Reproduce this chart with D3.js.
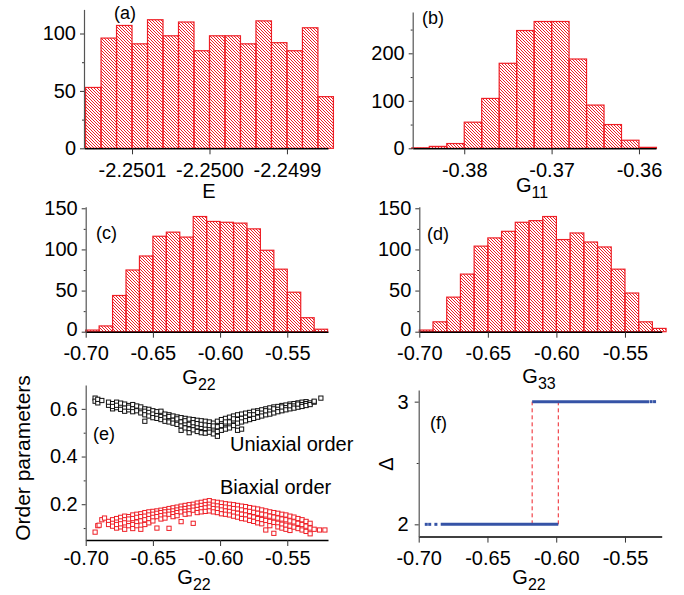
<!DOCTYPE html>
<html>
<head>
<meta charset="utf-8">
<script src="https://cdn.jsdelivr.net/npm/d3@7"></script>
<style>
  body { margin: 0; background: #fff; }
  svg { display: block; }
</style>
</head>
<body>
<svg></svg>
<script>

  // histogram counts
  var countsE = [53, 96, 107, 91, 112, 98, 110, 85, 98, 98, 91, 111, 92, 85, 105, 45]
  var countsG11 = [1, 4, 10, 55, 105, 179, 248, 267, 267, 188, 91, 50, 17, 2]
  var countsG22 = [2, 7, 44, 75, 92, 116, 121, 115, 140, 134, 133, 132, 125, 99, 76, 48, 17, 3]
  var countsG33 = [2, 12, 42, 70, 104, 114, 122, 133, 135, 140, 112, 120, 109, 103, 76, 47, 12, 4]

  // first bin edge, bin width
  var binsE = [-2.25016, 0.00002]
  var binsG11 = [-0.386, 0.002]
  var binsG22 = [-0.70, 0.01]
  var binsG33 = [-0.70, 0.01]

  // tick values and labels
  var ticksE = [-2.2501, -2.2500, -2.2499]
  var labelsE = ['-2.2501', '-2.2500', '-2.2499']
  var ticksG11 = [-0.38, -0.37, -0.36]
  var labelsG11 = ['-0.38', '-0.37', '-0.36']
  var ticksG = [-0.70, -0.65, -0.60, -0.55]
  var labelsG = ['-0.70', '-0.65', '-0.60', '-0.55']
  var countTicksA = [0, 50, 100]
  var countTicksB = [0, 100, 200]
  var countTicksC = [0, 50, 100, 150]
  var orderTicks = [0.2, 0.4, 0.6]
  var deltaTicks = [2, 3]

  // (e) uniaxial order parameter vs G22
  var uniaxial = [
    [-0.693,0.645],[-0.693,0.632],[-0.691,0.625],[-0.691,0.640],[-0.688,0.635],
    [-0.683,0.615],[-0.683,0.628],[-0.680,0.600],[-0.680,0.622],[-0.680,0.610],
    [-0.677,0.628],[-0.677,0.605],[-0.677,0.615],[-0.674,0.612],[-0.674,0.598],[-0.674,0.624],
    [-0.671,0.620],[-0.671,0.603],[-0.671,0.590],[-0.668,0.614],[-0.668,0.596],[-0.668,0.607],
    [-0.665,0.618],[-0.665,0.600],[-0.665,0.588],[-0.662,0.605],[-0.662,0.592],[-0.662,0.612],
    [-0.659,0.596],[-0.659,0.608],[-0.659,0.583],[-0.656,0.548],[-0.656,0.600],[-0.656,0.590],[-0.656,0.575],
    [-0.653,0.598],[-0.653,0.585],[-0.653,0.570],[-0.650,0.592],[-0.650,0.578],[-0.650,0.563],
    [-0.647,0.588],[-0.647,0.572],[-0.647,0.560],[-0.644,0.582],[-0.644,0.568],[-0.644,0.555],[-0.644,0.590],
    [-0.641,0.578],[-0.641,0.562],[-0.641,0.548],[-0.638,0.575],[-0.638,0.558],[-0.638,0.545],[-0.638,0.568],
    [-0.635,0.570],[-0.635,0.552],[-0.635,0.540],[-0.632,0.566],[-0.632,0.548],[-0.632,0.535],[-0.632,0.558],
    [-0.629,0.563],[-0.629,0.545],[-0.629,0.528],[-0.629,0.510],[-0.626,0.560],[-0.626,0.538],[-0.626,0.520],[-0.626,0.550],
    [-0.623,0.557],[-0.623,0.535],[-0.623,0.515],[-0.623,0.500],[-0.620,0.555],[-0.620,0.530],[-0.620,0.512],[-0.620,0.542],
    [-0.617,0.552],[-0.617,0.525],[-0.617,0.505],[-0.617,0.538],[-0.614,0.550],[-0.614,0.522],[-0.614,0.500],[-0.614,0.535],
    [-0.611,0.548],[-0.611,0.518],[-0.611,0.498],[-0.611,0.532],[-0.608,0.545],[-0.608,0.515],[-0.608,0.502],[-0.608,0.530],
    [-0.605,0.540],[-0.605,0.520],[-0.605,0.495],[-0.605,0.528],[-0.602,0.548],[-0.602,0.525],[-0.602,0.505],[-0.602,0.485],
    [-0.599,0.555],[-0.599,0.530],[-0.599,0.510],[-0.596,0.560],[-0.596,0.538],[-0.596,0.515],[-0.596,0.545],
    [-0.593,0.565],[-0.593,0.545],[-0.593,0.520],[-0.590,0.570],[-0.590,0.550],[-0.590,0.530],[-0.590,0.558],
    [-0.587,0.575],[-0.587,0.555],[-0.587,0.510],[-0.587,0.540],[-0.584,0.578],[-0.584,0.560],[-0.584,0.545],[-0.584,0.515],
    [-0.581,0.582],[-0.581,0.565],[-0.581,0.550],[-0.578,0.585],[-0.578,0.570],[-0.578,0.555],[-0.578,0.575],
    [-0.575,0.590],[-0.575,0.575],[-0.575,0.560],[-0.572,0.592],[-0.572,0.578],[-0.572,0.565],[-0.572,0.585],
    [-0.569,0.596],[-0.569,0.582],[-0.569,0.570],[-0.566,0.600],[-0.566,0.585],[-0.566,0.575],[-0.566,0.592],
    [-0.563,0.604],[-0.563,0.590],[-0.563,0.578],[-0.560,0.608],[-0.560,0.595],[-0.560,0.583],[-0.560,0.600],
    [-0.557,0.610],[-0.557,0.598],[-0.557,0.588],[-0.554,0.614],[-0.554,0.602],[-0.554,0.592],[-0.554,0.608],
    [-0.551,0.616],[-0.551,0.605],[-0.551,0.596],[-0.548,0.620],[-0.548,0.608],[-0.548,0.600],[-0.548,0.613],
    [-0.545,0.622],[-0.545,0.612],[-0.545,0.603],[-0.542,0.625],[-0.542,0.615],[-0.542,0.607],[-0.542,0.620],
    [-0.539,0.628],[-0.539,0.618],[-0.539,0.610],[-0.536,0.630],[-0.536,0.622],[-0.536,0.614],
    [-0.533,0.625],[-0.533,0.618],[-0.530,0.628],[-0.530,0.632],[-0.525,0.645]
  ]

  // (e) biaxial order parameter vs G22
  var biaxial = [
    [-0.693,0.083],[-0.691,0.110],[-0.690,0.112],[-0.688,0.135],[-0.686,0.142],
    [-0.683,0.128],[-0.683,0.115],[-0.680,0.135],[-0.680,0.120],[-0.680,0.108],
    [-0.677,0.140],[-0.677,0.125],[-0.677,0.100],[-0.677,0.115],[-0.674,0.145],[-0.674,0.130],[-0.674,0.105],[-0.674,0.118],
    [-0.671,0.150],[-0.671,0.135],[-0.671,0.095],[-0.671,0.122],[-0.668,0.148],[-0.668,0.128],[-0.668,0.110],[-0.668,0.138],
    [-0.665,0.155],[-0.665,0.140],[-0.665,0.115],[-0.665,0.098],[-0.662,0.158],[-0.662,0.145],[-0.662,0.125],[-0.662,0.110],
    [-0.659,0.160],[-0.659,0.148],[-0.659,0.130],[-0.659,0.095],[-0.656,0.165],[-0.656,0.150],[-0.656,0.135],[-0.656,0.115],
    [-0.653,0.168],[-0.653,0.155],[-0.653,0.140],[-0.653,0.122],[-0.650,0.170],[-0.650,0.158],[-0.650,0.145],[-0.650,0.130],
    [-0.647,0.172],[-0.647,0.162],[-0.647,0.148],[-0.647,0.100],[-0.644,0.175],[-0.644,0.165],[-0.644,0.152],[-0.644,0.138],
    [-0.641,0.178],[-0.641,0.168],[-0.641,0.155],[-0.641,0.142],[-0.638,0.182],[-0.638,0.170],[-0.638,0.158],[-0.638,0.099],
    [-0.635,0.185],[-0.635,0.172],[-0.635,0.160],[-0.635,0.148],[-0.632,0.188],[-0.632,0.176],[-0.632,0.165],[-0.632,0.152],
    [-0.629,0.192],[-0.629,0.180],[-0.629,0.168],[-0.629,0.127],[-0.626,0.195],[-0.626,0.182],[-0.626,0.170],[-0.626,0.158],
    [-0.623,0.198],[-0.623,0.185],[-0.623,0.172],[-0.623,0.160],[-0.620,0.200],[-0.620,0.188],[-0.620,0.175],[-0.620,0.120],
    [-0.617,0.205],[-0.617,0.192],[-0.617,0.178],[-0.617,0.165],[-0.614,0.208],[-0.614,0.195],[-0.614,0.182],[-0.614,0.168],
    [-0.611,0.212],[-0.611,0.198],[-0.611,0.185],[-0.611,0.170],[-0.608,0.215],[-0.608,0.200],[-0.608,0.188],[-0.608,0.172],
    [-0.605,0.210],[-0.605,0.196],[-0.605,0.182],[-0.605,0.168],[-0.602,0.208],[-0.602,0.193],[-0.602,0.180],[-0.602,0.165],
    [-0.599,0.205],[-0.599,0.190],[-0.599,0.176],[-0.599,0.160],[-0.596,0.202],[-0.596,0.188],[-0.596,0.172],[-0.596,0.158],
    [-0.593,0.200],[-0.593,0.185],[-0.593,0.170],[-0.593,0.155],[-0.590,0.198],[-0.590,0.182],[-0.590,0.166],[-0.590,0.150],
    [-0.587,0.195],[-0.587,0.180],[-0.587,0.162],[-0.587,0.146],[-0.584,0.192],[-0.584,0.176],[-0.584,0.158],[-0.584,0.140],
    [-0.581,0.190],[-0.581,0.172],[-0.581,0.155],[-0.581,0.138],[-0.578,0.186],[-0.578,0.170],[-0.578,0.150],[-0.578,0.132],
    [-0.575,0.183],[-0.575,0.166],[-0.575,0.146],[-0.575,0.128],[-0.572,0.180],[-0.572,0.162],[-0.572,0.140],[-0.572,0.122],
    [-0.569,0.176],[-0.569,0.158],[-0.569,0.136],[-0.569,0.118],[-0.566,0.172],[-0.566,0.155],[-0.566,0.132],[-0.566,0.092],
    [-0.563,0.168],[-0.563,0.150],[-0.563,0.128],[-0.563,0.110],[-0.560,0.165],[-0.560,0.146],[-0.560,0.124],[-0.560,0.078],
    [-0.557,0.162],[-0.557,0.142],[-0.557,0.120],[-0.557,0.105],[-0.554,0.158],[-0.554,0.138],[-0.554,0.116],[-0.554,0.100],
    [-0.551,0.155],[-0.551,0.135],[-0.551,0.112],[-0.551,0.095],[-0.548,0.150],[-0.548,0.130],[-0.548,0.108],[-0.548,0.090],
    [-0.545,0.146],[-0.545,0.126],[-0.545,0.104],[-0.542,0.140],[-0.542,0.120],[-0.542,0.098],
    [-0.539,0.135],[-0.539,0.115],[-0.539,0.092],[-0.536,0.128],[-0.536,0.108],[-0.536,0.086],
    [-0.533,0.120],[-0.533,0.076],[-0.533,0.100],[-0.530,0.095],[-0.526,0.092],[-0.522,0.092]
  ]

  // (f) delta vs G22: dense runs of points, a few isolated points, and the two switch points
  var deltaRuns = [{from: -0.684, to: -0.5985, delta: 2}, {from: -0.6175, to: -0.5325, delta: 3}]
  var deltaDots = [[-0.6945, 2], [-0.6920, 2], [-0.6875, 2], [-0.5310, 3], [-0.5285, 3]]
  var switchG22 = [-0.6175, -0.5985]


  var red = '#ee1f26'
  var blue = '#3553a6'
  var font = '"Liberation Sans", Arial, sans-serif'

  var svg = d3.select('svg')
              .attr('width', 684)
              .attr('height', 595)

  // diagonal hatch used to fill the bars
  svg.append('defs').append('pattern')
      .attr('id', 'hatch')
      .attr('patternUnits', 'userSpaceOnUse')
      .attr('width', 3)
      .attr('height', 3)
    .append('path')
      .attr('d', 'M0,0L3,3M-1,2L1,4M2,-1L4,1')
      .attr('stroke', red)
      .attr('stroke-width', 1)


  function histogram(counts, bins, x, y) {
    svg.append('g').selectAll('rect')
        .data(counts)
        .enter()
        .append('rect')
          .attr('x', (d, i) => x(bins[0] + i * bins[1]))
          .attr('width', (d, i) => x(bins[0] + (i + 1) * bins[1]) - x(bins[0] + i * bins[1]))
          .attr('y', (d) => y(d))
          .attr('height', (d) => y(0) - y(d))
          .attr('fill', 'url(#hatch)')
          .attr('stroke', red)
          .attr('stroke-width', 1.2)
  }

  function axes(x, y, o) {
    var gx = svg.append('g')
        .attr('transform', `translate(0,${y.range()[0]})`)
        .call(d3.axisBottom(x).tickValues(o.xt).tickFormat((d, i) => o.xl[i])
          .tickSize(6).tickSizeOuter(0).tickPadding(o.xpad))
    gx.select('.domain').attr('stroke', '#000').attr('stroke-width', 1.5)

    svg.append('g')
        .attr('transform', `translate(${x.range()[0]},0)`)
        .call(d3.axisLeft(y).tickValues(o.ym).tickFormat('').tickSize(2).tickSizeOuter(0))
        .select('.domain').remove()

    var gy = svg.append('g')
        .attr('transform', `translate(${x.range()[0]},0)`)
        .call(d3.axisLeft(y).tickValues(o.yt).tickFormat((d, i) => o.yl ? o.yl[i] : d)
          .tickSize(4).tickSizeOuter(0).tickPadding(o.ypad || 4))
    gy.select('.domain').attr('stroke', '#555').attr('stroke-width', 1.2)
    // the bottom label sits a touch higher so it clears the x tick labels
    gy.selectAll('.tick text').attr('dy', (d, i) => i == 0 && o.lift ? '0.2em' : '0.32em')

    svg.selectAll('.tick text').attr('font-size', 20).attr('font-family', font).attr('fill', '#000')
    svg.selectAll('.tick line').attr('stroke', '#333')
  }

  function label(x, y, main, sub, anchor, size) {
    var t = svg.append('text')
        .attr('x', x).attr('y', y)
        .attr('text-anchor', anchor || 'middle')
        .attr('font-family', font)
        .attr('font-size', size || 20)
        .text(main)
    if (sub) t.append('tspan').attr('font-size', 16).attr('dy', 6).text(sub)
  }

  function vlabel(x, y, txt, size) {
    svg.append('text')
        .attr('transform', `translate(${x},${y}) rotate(-90)`)
        .attr('text-anchor', 'middle')
        .attr('font-family', font)
        .attr('font-size', size)
        .text(txt)
  }


  // (a) E
  var xa = d3.scaleLinear().domain([-2.250162, -2.249847]).range([84, 328])
  var ya = d3.scaleLinear().domain([0, 121]).range([148.3, 9.4])
  histogram(countsE, binsE, xa, ya)
  axes(xa, ya, {xt: ticksE, xl: labelsE, xpad: 8.5, yt: countTicksA, ym: [25, 75]})
  label(209, 198, 'E')
  label(114, 19, '(a)', null, 'start', 18)

  // (b) G11
  var xb = d3.scaleLinear().domain([-0.3859, -0.35805]).range([412.7, 656])
  var yb = d3.scaleLinear().domain([0, 287]).range([148.3, 12])
  histogram(countsG11, binsG11, xb, yb)
  axes(xb, yb, {xt: ticksG11, xl: labelsG11, xpad: 8.5, yt: countTicksB, ym: [50, 150, 250]})
  label(532, 192, 'G', '11')
  label(422, 24, '(b)', null, 'start', 18)

  // (c) G22
  var xc = d3.scaleLinear().domain([-0.70, -0.5197]).range([85.7, 328])
  var yc = d3.scaleLinear().domain([0, 152]).range([331.7, 206.65])
  histogram(countsG22, binsG22, xc, yc)
  axes(xc, yc, {xt: ticksG, xl: labelsG, xpad: 8, yt: countTicksC, ym: [25, 75, 125], lift: true})
  label(199, 384, 'G', '22')
  label(96, 239, '(c)', null, 'start', 18)

  // (d) G33
  var xd = d3.scaleLinear().domain([-0.70, -0.5232]).range([419.3, 661.7])
  var yd = d3.scaleLinear().domain([0, 152]).range([331.7, 206.65])
  histogram(countsG33, binsG33, xd, yd)
  axes(xd, yd, {xt: ticksG, xl: labelsG, xpad: 8, yt: countTicksC, ym: [25, 75, 125], lift: true})
  label(539, 383, 'G', '33')
  label(427, 240, '(d)', null, 'start', 18)

  // (e) order parameters
  var xe = d3.scaleLinear().domain([-0.70, -0.5197]).range([85.7, 328])
  var ye = d3.scaleLinear().domain([0.05, 0.70]).range([540, 385])
  var sq = 4.2
  svg.append('g').selectAll('rect')
      .data(uniaxial)
      .enter()
      .append('rect')
        .attr('x', (d) => xe(d[0]) - sq / 2)
        .attr('y', (d) => ye(d[1]) - sq / 2)
        .attr('width', sq).attr('height', sq)
        .attr('fill', '#fff').attr('stroke', '#111').attr('stroke-width', 1)
  svg.append('g').selectAll('rect')
      .data(biaxial)
      .enter()
      .append('rect')
        .attr('x', (d) => xe(d[0]) - sq / 2)
        .attr('y', (d) => ye(d[1]) - sq / 2)
        .attr('width', sq).attr('height', sq)
        .attr('fill', '#fff').attr('stroke', red).attr('stroke-width', 1)
  axes(xe, ye, {xt: ticksG, xl: labelsG, xpad: 5, yt: orderTicks, yl: ['0.2', '0.4', '0.6'], ym: [0.1, 0.3, 0.5]})
  label(194, 584, 'G', '22')
  label(93, 440, '(e)', null, 'start', 18)
  label(230, 451, 'Uniaxial order', null, 'start', 20)
  label(220, 494, 'Biaxial order', null, 'start', 20)
  vlabel(30, 458, 'Order parameters', 21)

  // (f) delta
  var xf = d3.scaleLinear().domain([-0.70, -0.5233]).range([418.7, 661.7])
  var yf = d3.scaleLinear().domain([1.9, 3.095]).range([536.6, 390])
  svg.append('g').selectAll('line')
      .data(switchG22)
      .enter()
      .append('line')
        .attr('x1', (d) => xf(d)).attr('x2', (d) => xf(d))
        .attr('y1', yf(2)).attr('y2', yf(3))
        .attr('stroke', red).attr('stroke-width', 1).attr('stroke-dasharray', '4,3')
  svg.append('g').selectAll('line')
      .data(deltaRuns)
      .enter()
      .append('line')
        .attr('x1', (d) => xf(d.from)).attr('x2', (d) => xf(d.to))
        .attr('y1', (d) => yf(d.delta)).attr('y2', (d) => yf(d.delta))
        .attr('stroke', blue).attr('stroke-width', 3)
  svg.append('g').selectAll('rect')
      .data(deltaDots)
      .enter()
      .append('rect')
        .attr('x', (d) => xf(d[0]) - 1.5).attr('y', (d) => yf(d[1]) - 1.5)
        .attr('width', 3).attr('height', 3)
        .attr('fill', blue)
  axes(xf, yf, {xt: ticksG, xl: labelsG, xpad: 8, yt: deltaTicks, ym: [2.5], ypad: 6})
  label(529, 584, 'G', '22')
  label(430, 429, '(f)', null, 'start', 18)
  vlabel(393, 464, 'Δ', 20)

</script>
</body>
</html>
